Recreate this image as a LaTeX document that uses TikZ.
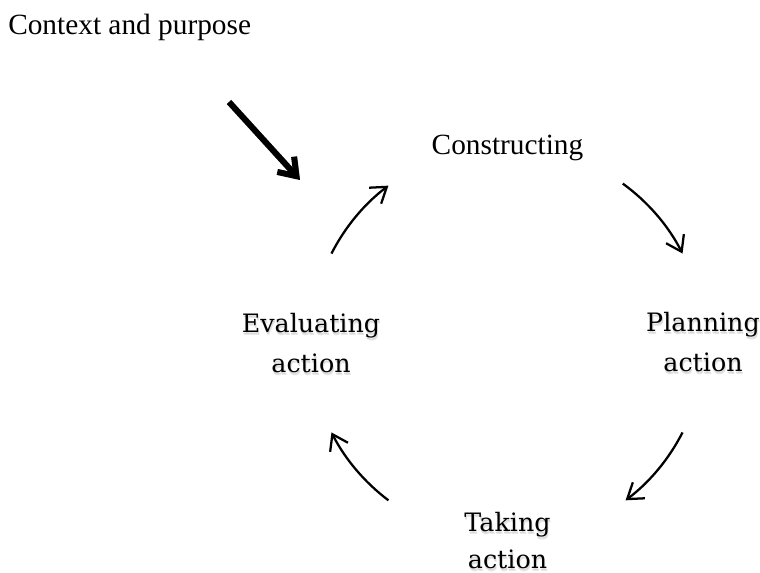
\documentclass[tikz,border=0pt]{standalone}
\usepackage{fontspec}
\setmainfont{Liberation Serif}
\newfontfamily\labfont{DejaVu Serif}
\usetikzlibrary{arrows.meta,calc}
\begin{document}
\begin{tikzpicture}[x=0.75pt,y=0.75pt,
  timestxt/.style={font=\fontsize{22}{26}\selectfont, inner sep=0pt},
  labtxt/.style={font=\labfont\fontsize{19}{30.5}\selectfont, inner sep=0pt, align=center},
  labtxtb/.style={font=\labfont\fontsize{19}{28}\selectfont, inner sep=0pt, align=center},
  thinarr/.style={line width=1.7pt, -{Straight Barb[length=11pt,width=15pt]}},
  thickarr/.style={line width=4.5pt, -{Straight Barb[length=12pt,width=17pt]}}
]
\useasboundingbox (0,0) rectangle (760,573);
% texts
\node[timestxt, anchor=base west] (ctx) at (8,538) {Context and purpose};
\node[timestxt, anchor=base] (cons) at (507.5,418) {Constructing};
% soft text shadows
\foreach \dx/\dy/\c in {1/-3/9,0.5/-2/14}{
  \node[labtxt, anchor=base, text=black!\c] (es\c) at (311+\dx,200+\dy) {Evaluating\\action};
  \node[labtxt, anchor=base, text=black!\c] (ps\c) at (703+\dx,201+\dy) {Planning\\action};
  \node[labtxtb, anchor=base, text=black!\c] (ts\c) at (507.5+\dx,4+\dy) {Taking\\action};
}
\node[labtxt, anchor=base] (eval) at (311,200) {Evaluating\\action};
\node[labtxt, anchor=base] (plan) at (703,201) {Planning\\action};
\node[labtxtb, anchor=base] (take) at (507.5,4) {Taking\\action};
% cycle arcs
\coordinate (c) at (507,230);
\coordinate (a1) at ($(c)+(153:147.75pt)$);
\coordinate (a2) at ($(c)+(54:147.75pt)$);
\coordinate (a3) at ($(c)+(-27:147.75pt)$);
\coordinate (a4) at ($(c)+(-127:147.75pt)$);
\draw[thinarr] (a1) arc[start angle=153, end angle=127, radius=147.75pt];
\draw[thinarr] (a2) arc[start angle=54, end angle=27, radius=147.75pt];
\draw[thinarr] (a3) arc[start angle=-27, end angle=-53, radius=147.75pt];
\draw[thinarr] (a4) arc[start angle=-127, end angle=-153, radius=147.75pt];
% thick arrow
\coordinate (ts) at (229,471);
\coordinate (te) at (300,393);
\draw[thickarr, black!35, shift={(-0.5,-2.5)}] (ts) -- (te);
\draw[thickarr] (ts) -- (te);
\end{tikzpicture}
\end{document}
